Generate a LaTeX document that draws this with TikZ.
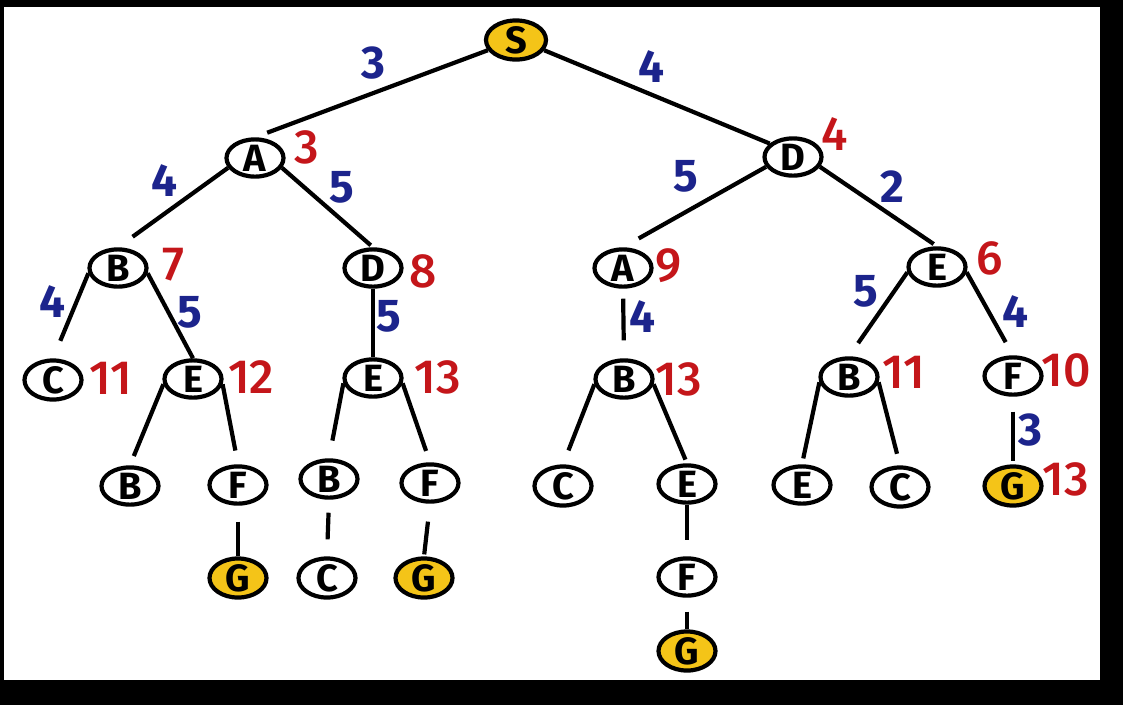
\documentclass[tikz,border=0pt]{standalone}
\usepackage{fontspec}
\setmainfont{Fira Sans}
\newfontfamily\medfont{Fira Sans Medium}
\usetikzlibrary{shapes.geometric}
\definecolor{gold}{RGB}{244,196,24}
\definecolor{navy}{RGB}{28,36,140}
\definecolor{dred}{RGB}{196,22,26}
\begin{document}
\begin{tikzpicture}[x=1pt,y=-1pt,
  st/.style={draw=black,line width=4.2pt,ellipse,minimum width=57pt,minimum height=36pt,inner sep=0pt,fill=white,font=\fontsize{38}{38}\selectfont\bfseries},
  goal/.style={st,fill=gold},
  edge/.style={line width=4.2pt},
  wt/.style={text=navy,font=\fontsize{46}{46}\selectfont\bfseries,inner sep=0pt},
  cost/.style={text=dred,font=\fontsize{48}{48}\selectfont\medfont,inner sep=0pt}]
\fill[black] (0,0) rectangle (1123,705);
\fill[white] (4,7) rectangle (1100,680);
% nodes
\node[goal,minimum width=60pt] (S) at (516,40) {S};
\node[st] (A1) at (255,158) {A};
\node[st] (D1) at (793,157) {D};
\node[st] (B2) at (118,268) {B};
\node[st] (D2) at (373,268) {D};
\node[st] (A2) at (623,268) {A};
\node[st] (E2) at (937,267) {E};
\node[st] (C3) at (53,380) {C};
\node[st] (E3a) at (193,379) {E};
\node[st] (E3b) at (373,378) {E};
\node[st] (B3) at (624,379) {B};
\node[st] (B3b) at (849,377) {B};
\node[st] (F3) at (1013,376) {F};
\node[st] (B4a) at (130,486) {B};
\node[st] (F4a) at (238,485) {F};
\node[st] (B4b) at (329,479) {B};
\node[st] (F4b) at (430,483) {F};
\node[st] (C4a) at (563,486) {C};
\node[st] (E4) at (687,484) {E};
\node[st] (E4b) at (802,485) {E};
\node[st] (C4b) at (900,487) {C};
\node[goal] (G4) at (1013,486) {G};
\node[goal] (G5a) at (238,578) {G};
\node[st] (C5) at (327,578) {C};
\node[goal] (G5b) at (424,578) {G};
\node[st] (F5) at (687,577) {F};
\node[goal] (G6) at (687,651) {G};
% edges
\draw[edge,shorten >=13pt] (S.200) -- (A1.north);
\draw[edge] (S.340) -- (D1.150);
\draw[edge,shorten >=18pt] (A1.200) -- (B2.north);
\draw[edge,shorten >=3pt] (A1.340) -- (D2.north);
\draw[edge,shorten >=18pt] (D1.200) -- (A2.north);
\draw[edge,shorten >=4pt] (D1.340) -- (E2.north);
\draw[edge,shorten >=19pt] (B2.190) -- (C3.north);
\draw[edge] (B2.350) -- (E3a.north);
\draw[edge] (D2.south) -- (E3b.north);
\draw[edge,shorten <=10pt,shorten >=18pt] (A2.south) -- (B3.north);
\draw[edge,shorten >=16pt] (E2.190) -- (B3b.north);
\draw[edge,shorten >=15pt] (E2.350) -- (F3.north);
\draw[edge,shorten >=10pt] (E3a.190) -- (B4a.north);
\draw[edge,shorten >=14pt] (E3a.350) -- (F4a.north);
\draw[edge,shorten >=18pt] (E3b.190) -- (B4b.north);
\draw[edge,shorten >=12pt] (E3b.350) -- (F4b.north);
\draw[edge,shorten >=15pt] (B3.190) -- (C4a.north);
\draw[edge,shorten >=4pt] (B3.350) -- (E4.north);
\draw[edge,shorten >=16pt] (E4.south) -- (F5.north);
\draw[edge,shorten <=14pt] (F5.south) -- (G6.north);
\draw[edge,shorten >=6pt] (B3b.190) -- (E4b.north);
\draw[edge,shorten >=12pt] (B3b.350) -- (C4b.north);
\draw[edge,shorten <=15pt,shorten >=3pt] (F3.south) -- (G4.north);
\draw[edge,shorten <=16pt] (F4a.south) -- (G5a.north);
\draw[edge,shorten <=13pt,shorten >=17pt] (B4b.south) -- (C5.north);
\draw[edge,shorten <=18pt,shorten >=2pt] (F4b.south) -- (G5b.north);
% edge weights
\node[wt] (w1) at (373,63) {3};
\node[wt] (w2) at (651,67) {4};
\node[wt] (w3) at (164,181) {4};
\node[wt] (w4) at (342,187) {5};
\node[wt] (w5) at (686,176) {5};
\node[wt] (w6) at (892,187) {2};
\node[wt] (w7) at (52,302) {4};
\node[wt] (w8) at (190,312) {5};
\node[wt] (w9) at (389,316) {5};
\node[wt] (w10) at (642,317) {4};
\node[wt] (w11) at (866,291) {5};
\node[wt] (w12) at (1015,312) {4};
\node[wt] (w13) at (1030,430) {3};
% path costs
\node[cost] (c1) at (307,147) {3};
\node[cost] (c2) at (835,134) {4};
\node[cost] (c3) at (173,265) {7};
\node[cost] (c4) at (423,271) {8};
\node[cost] (c5) at (669,266) {9};
\node[cost] (c6) at (990,258) {6};
\node[cost] (c7) at (111,378) {11};
\node[cost] (c8) at (251,377) {12};
\node[cost] (c9) at (438,377) {13};
\node[cost] (c10) at (679,379) {13};
\node[cost] (c11) at (904,372) {11};
\node[cost] (c12) at (1066,370) {10};
\node[cost] (c13) at (1066,479) {13};
\end{tikzpicture}
\end{document}
